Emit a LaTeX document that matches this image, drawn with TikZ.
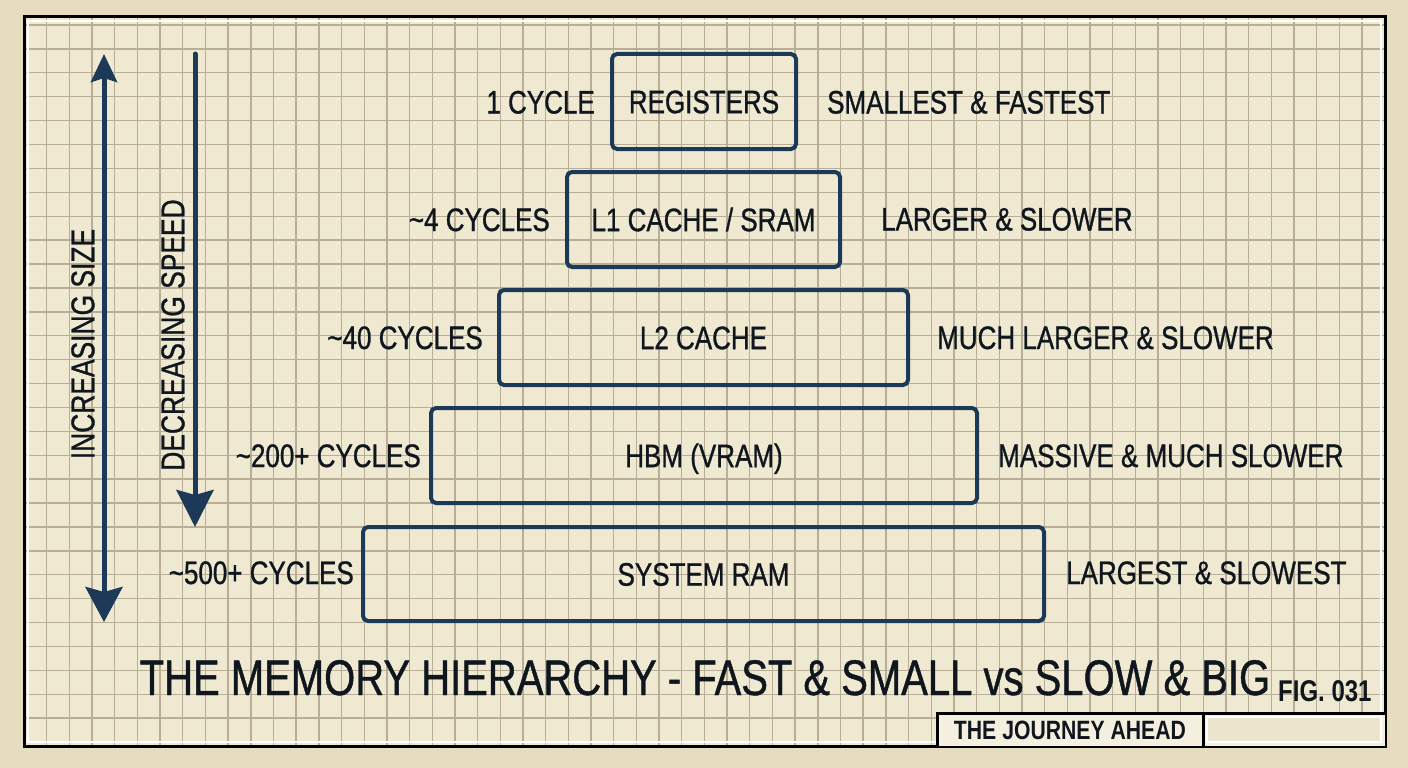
\documentclass[tikz,border=0pt]{standalone}
\usepackage{fontspec}
\setmainfont{Liberation Sans}[FakeStretch=0.8,UprightFeatures={FakeBold=0.9}]
\usetikzlibrary{arrows.meta}
\definecolor{paper}{HTML}{F0E9D2}
\definecolor{outer}{HTML}{E6DCBE}
\definecolor{gridc}{HTML}{B8AE98}
\definecolor{navy}{HTML}{1C3A58}
\definecolor{ink}{HTML}{10161E}
\definecolor{cell}{HTML}{F4EFDF}
\definecolor{cell2}{HTML}{ECE4CC}
\begin{document}
\begin{tikzpicture}[x=1pt,y=-1pt,
  membox/.style={draw=navy,line width=4pt,rounded corners=5pt,inner sep=0pt,
    font=\fontsize{32.5}{36}\selectfont,text=ink,text height=23.3pt,text depth=0pt},
  lbl/.style={font=\fontsize{32.5}{36}\selectfont,text=ink,inner sep=0pt},
  sidelbl/.style={font=\fontsize{33}{36}\selectfont,text=ink,inner sep=0pt,rotate=90,
    text height=23.6pt,text depth=0pt},
  gridline/.style={draw=gridc,line width=1.4pt},
  axis/.style={draw=navy,line width=5pt},
  framec/.style={draw=black,line width=3pt}]
\useasboundingbox (0,0) rectangle (1408,768);
\fill[outer] (0,0) rectangle (1408,768);
\fill[paper] (24,17) rectangle (1385,746);
% grid
\foreach \k in {1,...,59} \draw[gridline] ({24+22.68*\k},18) -- ({24+22.68*\k},745);
\foreach \k in {0,...,29} \draw[gridline] (25,{25+23.9*\k}) -- (1384,{25+23.9*\k});
% frame
\draw[white,line width=2pt] (28,21) rectangle (1381,742);
\draw[framec] (24,17) rectangle (1385,746);
% title block
\fill[cell] (937,713) rectangle (1385,746);
\fill[cell2] (1206,716) rectangle (1382,743);
\draw[white,line width=1.5pt] (1207,717) rectangle (1381,742);
\draw[framec] (937,746) -- (937,713) -- (1385,713);
\draw[framec] (1203,713) -- (1203,746);
\node[font=\bfseries\fontsize{26.5}{29}\selectfont,text=ink,anchor=base] (journey) at (1070,739) {THE JOURNEY AHEAD};
\node[font=\bfseries\fontsize{30}{32}\selectfont,text=ink,anchor=base west,inner sep=0pt] (fig) at (1278,701) {FIG. 031};
% title
\node[font=\fontsize{50}{54}\selectfont,text=ink,anchor=base,inner sep=0pt] (title) at (705,695) {THE MEMORY HIERARCHY - FAST \& SMALL vs SLOW \& BIG};
% boxes
\node[membox,minimum width=184pt,minimum height=95pt] (reg) at (704,101.5) {REGISTERS};
\node[membox,minimum width=273pt,minimum height=95pt] (l1) at (703.5,219.5) {L1 CACHE / SRAM};
\node[membox,minimum width=409pt,minimum height=95pt] (l2) at (703.5,337.5) {L2 CACHE};
\node[membox,minimum width=546pt,minimum height=95pt] (hbm) at (704,455.5) {HBM (VRAM)};
\node[membox,minimum width=681pt,minimum height=94pt] (ram) at (703.5,574) {SYSTEM RAM};
% left labels
\node[lbl,anchor=base east] (c1) at (595,113.5) {1 CYCLE};
\node[lbl,anchor=base east] (c4) at (550,231) {\textasciitilde 4 CYCLES};
\node[lbl,anchor=base east] (c40) at (483,349) {\textasciitilde 40 CYCLES};
\node[lbl,anchor=base east] (c200) at (421,467) {\textasciitilde 200+ CYCLES};
\node[lbl,anchor=base east] (c500) at (354,584) {\textasciitilde 500+ CYCLES};
% right labels
\node[lbl,anchor=base west] (d1) at (827,113.5) {SMALLEST \& FASTEST};
\node[lbl,anchor=base west] (d2) at (881,230.5) {LARGER \& SLOWER};
\node[lbl,anchor=base west] (d3) at (937,349) {MUCH LARGER \& SLOWER};
\node[lbl,anchor=base west] (d4) at (998,467) {MASSIVE \& MUCH SLOWER};
\node[lbl,anchor=base west] (d5) at (1066,584) {LARGEST \& SLOWEST};
% axes
\coordinate (sizetop) at (104,54);
\coordinate (sizebot) at (104,622);
\coordinate (speedtop) at (195,54);
\coordinate (speedbot) at (195,527);
\draw[axis,{Stealth[length=28pt,width=26pt,inset=4pt]}-{Stealth[length=35pt,width=37pt,inset=5pt]}] (sizetop) -- (sizebot);
\draw[axis,line cap=round,-{Stealth[length=37pt,width=37pt,inset=5pt]}] (speedtop) -- (speedbot);
\node[sidelbl] (sizelbl) at (82.5,344) {INCREASING SIZE};
\node[sidelbl] (speedlbl) at (172.5,335) {DECREASING SPEED};
\end{tikzpicture}
\end{document}
